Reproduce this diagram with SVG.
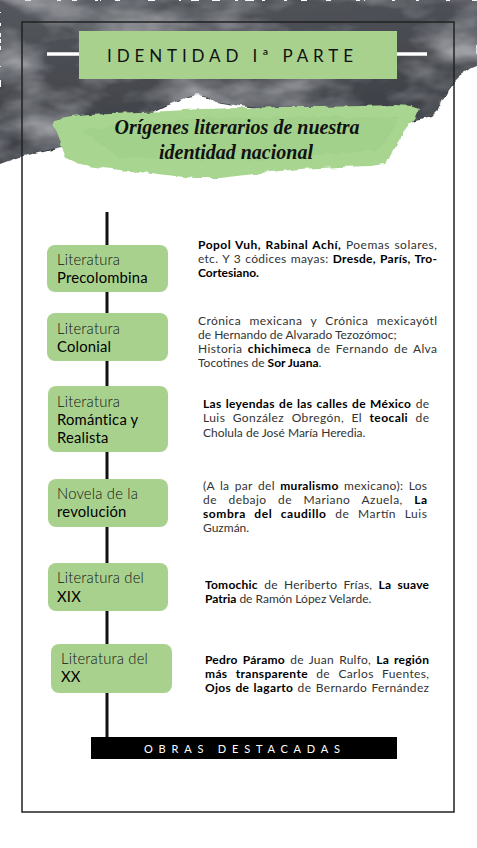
<svg xmlns="http://www.w3.org/2000/svg" width="477" height="848" viewBox="0 0 477 848">
<style>
.node{fill:#a9d18e}
.nt1{font-family:Lato,"Liberation Sans",sans-serif;font-size:14.8px;font-weight:300;fill:#111;letter-spacing:0.2px}
.nt2{font-family:Lato,"Liberation Sans",sans-serif;font-size:14.8px;font-weight:400;fill:#000;letter-spacing:0.2px}
.body{font-family:Lato,"Liberation Sans",sans-serif;font-size:12px;font-weight:400;fill:#333}
.b{font-weight:700;fill:#000}
</style>
<defs>
<filter id="rough" x="-5%" y="-5%" width="110%" height="110%">
<feTurbulence type="fractalNoise" baseFrequency="0.09" numOctaves="2" seed="4" result="t"/>
<feDisplacementMap in="SourceGraphic" in2="t" scale="6" xChannelSelector="R" yChannelSelector="G"/>
</filter>
<filter id="tex" x="0" y="0" width="100%" height="100%">
<feTurbulence type="fractalNoise" baseFrequency="0.012 0.025" numOctaves="4" seed="7" result="n"/>
<feColorMatrix in="n" type="matrix" values="0 0 0 0 0.6  0 0 0 0 0.61  0 0 0 0 0.64  0 0 0 1.8 -0.7" result="c"/>
<feComposite in="c" in2="SourceGraphic" operator="in"/>
</filter>
<linearGradient id="dark" x1="0" y1="0" x2="0.3" y2="1">
<stop offset="0" stop-color="#55585e"/>
<stop offset="1" stop-color="#3a3c42"/>
</linearGradient>
</defs>
<rect width="477" height="848" fill="#fff"/>
<g id="background">
<path d="M0,0 H477 V66 L472,68 L466,72 L460,76 L454,82 L448,90 L443,100 L438,110 L432,116 L420,119 L410,122 L300,112 L240,106 L215,102 L207,97 L198,95 L188,97 L178,101 L165,106 L150,113 L130,122 L110,131 L90,139 L70,145 L52,149 L35,153 L20,157 L8,161 L0,164 Z" fill="url(#dark)" filter="url(#rough)"/>
<path d="M0,0 H477 V66 L472,68 L466,72 L460,76 L454,82 L448,90 L443,100 L438,110 L432,116 L420,119 L410,122 L300,112 L240,106 L215,102 L207,97 L198,95 L188,97 L178,101 L165,106 L150,113 L130,122 L110,131 L90,139 L70,145 L52,149 L35,153 L20,157 L8,161 L0,164 Z" fill="#000" filter="url(#tex)" opacity="0.8"/>
</g>
<rect x="22" y="22" width="432" height="790" fill="none" stroke="#222" stroke-width="1.5"/>
<g id="title">
<line x1="47" y1="54" x2="80" y2="54" stroke="#fff" stroke-width="3.5"/>
<line x1="396" y1="54" x2="427" y2="54" stroke="#fff" stroke-width="3.5"/>
<rect x="79" y="31" width="318" height="48" fill="#a9d18e"/>
<text x="107" y="62" font-family="Lato,'Liberation Sans',sans-serif" font-size="17" fill="#111" textLength="246" lengthAdjust="spacing">IDENTIDAD Iª PARTE</text>
</g>
<g id="subtitle">
<path d="M53,122 L60,118 L72,116 L90,114 L110,113 L140,112 L170,111 L200,109 L240,108 L280,107 L320,107 L360,106 L395,105 L410,106 L419,109 L416,116 L410,124 L404,132 L398,142 L393,152 L388,160 L385,164 L370,166 L340,167 L300,169 L270,172 L245,175 L220,178 L195,178 L175,176 L150,173 L120,170 L95,167 L75,163 L65,158 L62,150 L60,140 L57,132 L54,127 Z" fill="#a8d690" filter="url(#rough)"/>
<path d="M80,130 L200,118 L330,116 L400,118 L380,150 L260,160 L120,158 Z" fill="#98c983" opacity="0.35" filter="url(#rough)"/>
<text x="237" y="134" text-anchor="middle" font-family="'Liberation Serif',serif" font-style="italic" font-weight="bold" font-size="20" fill="#111">Orígenes literarios de nuestra</text>
<text x="236" y="159" text-anchor="middle" font-family="'Liberation Serif',serif" font-style="italic" font-weight="bold" font-size="20" fill="#111">identidad nacional</text>
</g>
<g id="connectors">
<line x1="107" y1="212" x2="107" y2="738" stroke="#111" stroke-width="3"/>
</g>
<g id="node-precolombina">
<rect class="node" x="47" y="245" width="121" height="47" rx="8"/>
<text class="nt1" x="57" y="265">Literatura</text>
<text class="nt2" x="57" y="283">Precolombina</text>
</g>
<g id="node-colonial">
<rect class="node" x="47" y="313" width="121" height="48" rx="8"/>
<text class="nt1" x="57" y="334">Literatura</text>
<text class="nt2" x="57" y="352">Colonial</text>
</g>
<g id="node-romantica">
<rect class="node" x="48" y="386" width="120" height="66" rx="8"/>
<text class="nt1" x="57" y="407">Literatura</text>
<text class="nt2" x="57" y="425">Romántica y</text>
<text class="nt2" x="57" y="443">Realista</text>
</g>
<g id="node-revolucion">
<rect class="node" x="48" y="479" width="120" height="48" rx="8"/>
<text class="nt1" x="57" y="499">Novela de la</text>
<text class="nt2" x="57" y="517">revolución</text>
</g>
<g id="node-xix">
<rect class="node" x="48" y="563" width="120" height="48" rx="8"/>
<text class="nt1" x="57" y="583">Literatura del</text>
<text class="nt2" x="57" y="602">XIX</text>
</g>
<g id="node-xx">
<rect class="node" x="51" y="644" width="121" height="49" rx="8"/>
<text class="nt1" x="61" y="664">Literatura del</text>
<text class="nt2" x="61" y="682">XX</text>
</g>
<g id="texts">
<text class="body" x="198" y="249" textLength="239" lengthAdjust="spacing" word-spacing="1"><tspan class="b">Popol Vuh, Rabinal Achí,</tspan> Poemas solares,</text>
<text class="body" x="198" y="263" textLength="239" lengthAdjust="spacing" word-spacing="1">etc. Y 3 códices mayas: <tspan class="b">Dresde, París, Tro-</tspan></text>
<text class="body" x="198" y="277"><tspan class="b">Cortesiano.</tspan></text>
<text class="body" x="198" y="325" textLength="239" lengthAdjust="spacing" word-spacing="5">Crónica mexicana y Crónica mexicayótl</text>
<text class="body" x="198" y="339">de Hernando de Alvarado Tezozómoc;</text>
<text class="body" x="198" y="353" textLength="239" lengthAdjust="spacing" word-spacing="2">Historia <tspan class="b">chichimeca</tspan> de Fernando de Alva</text>
<text class="body" x="198" y="367">Tocotines de <tspan class="b">Sor Juana</tspan>.</text>
<text class="body" x="203" y="408" textLength="226" lengthAdjust="spacing" word-spacing="1"><tspan class="b">Las leyendas de las calles de México</tspan> de</text>
<text class="body" x="203" y="422" textLength="226" lengthAdjust="spacing" word-spacing="4">Luis González Obregón, El <tspan class="b">teocali</tspan> de</text>
<text class="body" x="203" y="437">Cholula de José María Heredia.</text>
<text class="body" x="203" y="490" textLength="224" lengthAdjust="spacing" word-spacing="2">(A la par del <tspan class="b">muralismo</tspan> mexicano): Los</text>
<text class="body" x="203" y="504" textLength="224" lengthAdjust="spacing" word-spacing="8">de debajo de Mariano Azuela, <tspan class="b">La</tspan></text>
<text class="body" x="203" y="518" textLength="224" lengthAdjust="spacing" word-spacing="5"><tspan class="b">sombra del caudillo</tspan> de Martín Luis</text>
<text class="body" x="203" y="532">Guzmán.</text>
<text class="body" x="205" y="589" textLength="224" lengthAdjust="spacing" word-spacing="3"><tspan class="b">Tomochic</tspan> de Heriberto Frías, <tspan class="b">La suave</tspan></text>
<text class="body" x="205" y="603"><tspan class="b">Patria</tspan> de Ramón López Velarde.</text>
<text class="body" x="205" y="664" textLength="224" lengthAdjust="spacing" word-spacing="2"><tspan class="b">Pedro Páramo</tspan> de Juan Rulfo, <tspan class="b">La región</tspan></text>
<text class="body" x="205" y="678" textLength="224" lengthAdjust="spacing" word-spacing="5"><tspan class="b">más transparente</tspan> de Carlos Fuentes,</text>
<text class="body" x="205" y="692" textLength="224" lengthAdjust="spacing" word-spacing="1"><tspan class="b">Ojos de lagarto</tspan> de Bernardo Fernández</text>
</g>
<g id="footer">
<rect x="91" y="737" width="306" height="22" fill="#000"/>
<text x="144" y="753" font-family="Lato,'Liberation Sans',sans-serif" font-size="11" fill="#fff" textLength="196" lengthAdjust="spacing">OBRAS DESTACADAS</text>
</g>
</svg>
